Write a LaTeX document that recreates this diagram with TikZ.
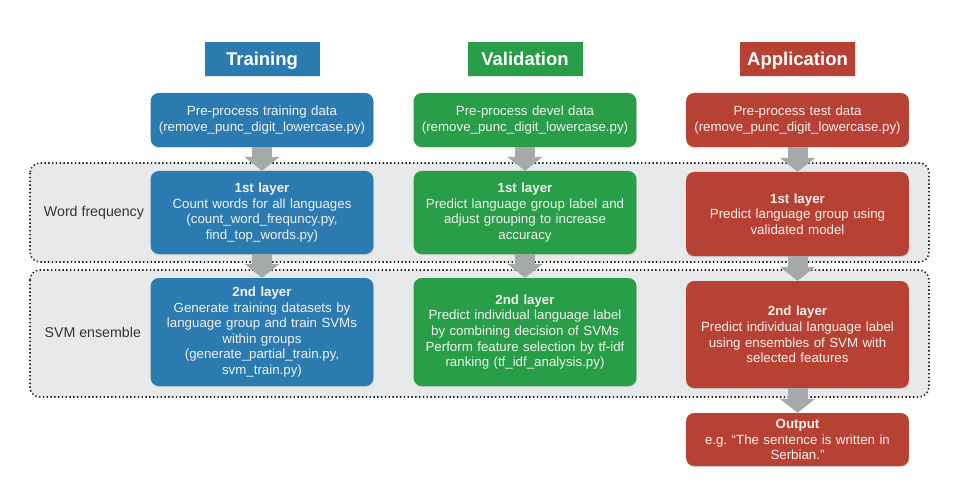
\documentclass[tikz,border=0pt]{standalone}
\usepackage{fontspec}
\setmainfont{Liberation Sans}
\usetikzlibrary{positioning,arrows.meta,shadows}

\definecolor{trainblue}{RGB}{43,123,177}
\definecolor{valgreen}{RGB}{40,158,72}
\definecolor{appred}{RGB}{183,65,50}
\definecolor{groupgray}{RGB}{232,233,235}
\definecolor{arrowgray}{RGB}{165,169,169}

\begin{document}
\begin{tikzpicture}[x=1pt, y=1pt, node distance=90pt]
        \tikzstyle{title} = [rectangle, minimum height=34pt, minimum width=115pt, text height=14pt, text depth=0pt, text=white, font=\fontsize{18.5}{21}\selectfont\bfseries, drop shadow={opacity=0.25, shadow xshift=0.6pt, shadow yshift=-1pt}];
        \tikzstyle{box} = [rectangle, rounded corners=8pt, minimum width=220pt, text width=216pt, align=center, text=white!94!black, font=\fontsize{13.3}{15.6}\selectfont, drop shadow={opacity=0.25, shadow xshift=0.6pt, shadow yshift=-1.2pt}];
        \tikzstyle{group} = [draw=black!85, fill=groupgray, line width=1.6pt, dash pattern=on 1.4pt off 2.4pt, rounded corners=10pt];
        \tikzstyle{grouplabel} = [font=\fontsize{14.2}{16}\selectfont, text=black!80];
        \tikzstyle{flow} = [-{Triangle[width=35pt,length=14pt]}, line width=20pt, draw=arrowgray];

        \useasboundingbox (0,0) rectangle (955,-497);

        % dotted groups behind the boxes
        \draw[group] (30,-163) rectangle (929,-262);
        \draw[group] (30,-270) rectangle (929,-397);

        % column titles
        \node(traintitle)[title, fill=trainblue] at (262,-59){Training};
        \node(valtitle)[title, fill=valgreen] at (525,-59){Validation};
        \node(apptitle)[title, fill=appred] at (797.5,-59){Application};

        % training
        \node(trainpre)[box, fill=trainblue, minimum height=54pt, below of=traintitle, node distance=61pt]{Pre-process training data\\(remove\_punc\_digit\_lowercase.py)};
        \node(trainfirst)[box, fill=trainblue, minimum height=83pt, below of=trainpre, node distance=92.5pt]{\textbf{1st layer}\\Count words for all languages\\(count\_word\_frequncy.py,\\find\_top\_words.py)};
        \node(trainsecond)[box, fill=trainblue, minimum height=108pt, below of=trainfirst, node distance=119.5pt]{\textbf{2nd layer}\\Generate training datasets by\\language group and train SVMs\\within groups\\(generate\_partial\_train.py,\\svm\_train.py)};

        % validation
        \node(valpre)[box, fill=valgreen, minimum height=54pt, below of=valtitle, node distance=61pt]{Pre-process devel data\\(remove\_punc\_digit\_lowercase.py)};
        \node(valfirst)[box, fill=valgreen, minimum height=83pt, below of=valpre, node distance=92.5pt]{\textbf{1st layer}\\Predict language group label and\\adjust grouping to increase\\accuracy};
        \node(valsecond)[box, fill=valgreen, minimum height=108pt, below of=valfirst, node distance=119.5pt]{\textbf{2nd layer}\\Predict individual language label\\by combining decision of SVMs\\Perform feature selection by tf-idf\\ranking (tf\_idf\_analysis.py)};

        % application
        \node(apppre)[box, fill=appred, minimum height=54pt, below of=apptitle, node distance=61pt]{Pre-process test data\\(remove\_punc\_digit\_lowercase.py)};
        \node(appfirst)[box, fill=appred, minimum height=84pt, below of=apppre, node distance=94pt]{\textbf{1st layer}\\Predict language group using\\validated model};
        \node(appsecond)[box, fill=appred, minimum height=107pt, below of=appfirst, node distance=120.5pt]{\textbf{2nd layer}\\Predict individual language label\\using ensembles of SVM with\\selected features};
        \node(appout)[box, fill=appred, minimum height=53pt, below of=appsecond, node distance=105pt]{\textbf{Output}\\e.g.\ “The sentence is written in\\Serbian.”};

        % group labels
        \node(wordlabel)[grouplabel, left=3pt of trainfirst]{Word frequency};
        \node(svmlabel)[grouplabel, left=6pt of trainsecond]{SVM ensemble};

        % flow arrows
        \draw [flow] (trainpre) -- (trainfirst);
        \draw [flow] (trainfirst) -- (trainsecond);
        \draw [flow] (valpre) -- (valfirst);
        \draw [flow] (valfirst) -- (valsecond);
        \draw [flow] (apppre) -- (appfirst);
        \draw [flow] (appfirst) -- (appsecond);
        \draw [flow] (appsecond) -- (appout);
    \end{tikzpicture}
\end{document}
